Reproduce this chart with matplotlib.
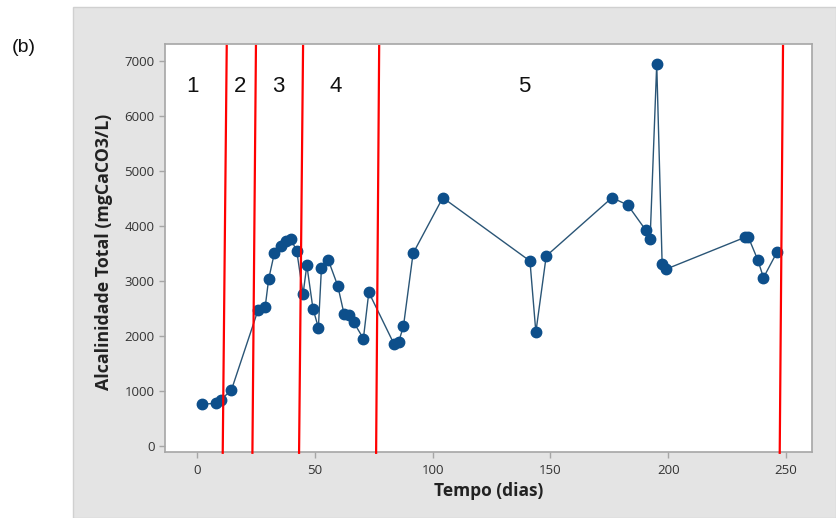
import matplotlib
matplotlib.use("Agg")
import matplotlib.pyplot as plt
from matplotlib.patches import Rectangle

# data
dias = [2.0, 7.9, 10.0, 14.6, 25.9, 28.9, 30.4, 32.8, 35.6, 37.8, 39.8, 42.3,
        45.0, 46.6, 49.2, 51.5, 52.8, 55.7, 59.7, 62.4, 64.7, 66.5, 70.6, 72.9,
        83.6, 85.6, 87.6, 91.7, 104.3, 141.3, 143.8, 148.2, 176.1, 182.8, 190.4,
        192.3, 195.1, 197.4, 198.9, 232.6, 234.0, 238.0, 240.4, 246.1]
alcalinidade = [754, 772, 832, 1015, 2472, 2520, 3036, 3504, 3637, 3728, 3760, 3552,
                2763, 3286, 2496, 2150, 3237, 3382, 2915, 2399, 2381, 2248, 1950, 2794,
                1852, 1895, 2175, 3504, 4517, 3364, 2066, 3455, 4517, 4384, 3929,
                3771, 6953, 3304, 3213, 3796, 3796, 3383, 3060, 3522]

# phase boundaries (slightly slanted in the original): (x at top, x at bottom)
limites = [(12.6, 10.9), (25.0, 23.5), (45.0, 43.3), (77.3, 76.0), (248.7, 247.3)]
fases = ["1", "2", "3", "4", "5"]
fase_x = [-1.8, 18.3, 34.5, 58.8, 138.8]

tick_color = "#333333"
fig = plt.figure(figsize=(8.36, 5.18), dpi=100)
fig.patch.set_facecolor("white")
fig.patches.append(Rectangle((73 / 836, 0), 1 - 73 / 836, 1 - 7 / 518,
                             transform=fig.transFigure, fc="#e4e4e4",
                             ec="#d0d0d0", lw=1, zorder=-10))

ax = fig.add_axes([165 / 836, 66 / 518, 647 / 836, 408.5 / 518])
ax.plot(dias, alcalinidade, "-", color="#2a5576", lw=1.0, zorder=3)
ax.plot(dias, alcalinidade, "o", color="#0d4f8b", ms=7.5, mec="#0d4f8b", zorder=4)

for xt, xb in limites:
    ax.plot([xt, xb], [7280, -130], color="#ff0000", lw=1.6, clip_on=False, zorder=5)

for lab, xx in zip(fases, fase_x):
    ax.text(xx, 6540, lab, fontsize=16, family="Liberation Sans",
            ha="center", va="center", color="#111111")

ax.set_xlim(-13.6, 261)
ax.set_ylim(-115, 7326)
ax.set_xticks([0, 50, 100, 150, 200, 250])
ax.set_yticks(range(0, 7001, 1000))

for sp in ax.spines.values():
    sp.set_color("#a6a6a6")
    sp.set_linewidth(1.2)
ax.tick_params(colors="#a6a6a6", labelcolor=tick_color, length=4, width=1,
               labelsize=9.5)
for lb in ax.get_xticklabels() + ax.get_yticklabels():
    lb.set_family("Open Sans")
ax.tick_params(axis="x", pad=5)

ax.set_xlabel("Tempo (dias)", fontsize=12.5, fontweight="bold",
              family="Open Sans", color="#222222", labelpad=3)
ax.set_ylabel("Alcalinidade Total (mgCaCO3/L)", fontsize=12.8, fontweight="bold",
              family="Open Sans", color="#222222", labelpad=5)
ax.yaxis.set_label_coords(-0.081, 0.49)

fig.text(12 / 836, 1 - 47 / 518, "(b)", fontsize=14, family="Liberation Sans",
         ha="left", va="center", color="#111111")

fig.savefig("out.png", dpi=100)
